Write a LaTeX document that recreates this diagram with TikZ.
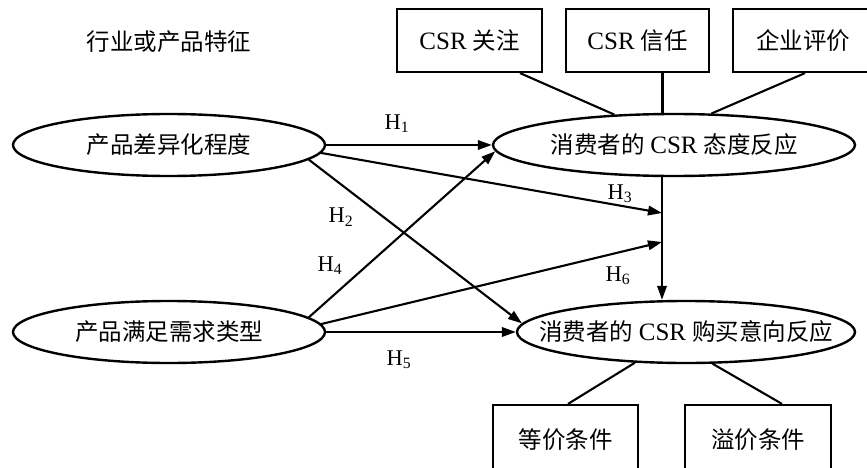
\documentclass[tikz,border=0pt]{standalone}
\usepackage{fontspec}
\setmainfont{Liberation Serif}
\newfontfamily\cjk{Noto Sans CJK SC}
\usetikzlibrary{shapes.geometric,arrows.meta}
\newcommand\zh[1]{{\cjk #1}}
\newcommand\csrtxt{{\fontsize{25}{25}\selectfont CSR}}
\newcommand\hyp[1]{H\textsubscript{#1}}
\begin{document}
\begin{tikzpicture}[x=1pt,y=-1pt,
  every node/.style={font=\fontsize{23.5}{26}\selectfont},
  ell/.style={draw,ellipse,line width=2.4pt,inner sep=0pt,minimum height=62pt},
  box/.style={draw,rectangle,line width=2.2pt,inner sep=0pt},
  link/.style={line width=2.1pt},
  arr/.style={line width=2.1pt,-{Triangle[length=14pt,width=9.5pt]}},
  hlab/.style={font=\fontsize{22.5}{24}\selectfont}]
\useasboundingbox (0,0) rectangle (867,468);
\clip (0,0) rectangle (867,468);

% title
\node (title) at (169,42) {\zh{行业或产品特征}};

% ellipses
\node[ell, minimum width=312pt] (e1) at (169,145) {};
\node (t1) at (e1.center) {\zh{产品差异化程度}};
\node[ell, minimum width=312pt] (e2) at (169,332) {};
\node (t2) at (e2.center) {\zh{产品满足需求类型}};
\node[ell, minimum width=362pt] (e3) at (674,145) {};
\node (t3) at (e3.center) {\zh{消费者的} \csrtxt{} \zh{态度反应}};
\node[ell, minimum width=338pt] (e4) at (686,332) {};
\node (t4) at (e4.center) {\zh{消费者的} \csrtxt{} \zh{购买意向反应}};

% top boxes
\node[box, minimum width=145pt, minimum height=63pt] (b1) at (469.5,40.5) {\csrtxt{} \zh{关注}};
\node[box, minimum width=143pt, minimum height=63pt] (b2) at (637.5,40.5) {\csrtxt{} \zh{信任}};
\node[box, minimum width=140pt, minimum height=63pt] (b3) at (803,40.5) {\zh{企业评价}};

% bottom boxes
\node[box, minimum width=145pt, minimum height=70pt] (ba) at (565.5,440) {\zh{等价条件}};
\node[box, minimum width=146pt, minimum height=70pt] (bb) at (758,440) {\zh{溢价条件}};

% links boxes - ellipses
\draw[link] ([xshift=50.5pt]b1.south) -- (e3.153.8);
\draw[link] ([xshift=25pt]b2.south) -- ([xshift=25pt]b2.south |- e3.north);
\draw[link] ([xshift=2pt]b3.south) -- (e3.40);
\draw[link] (e4.211) -- ([xshift=2.5pt]ba.north);
\draw[link] (e4.-50) -- ([xshift=24pt]bb.north);

% junctions on vertical line
\coordinate (j3) at (662,213);
\coordinate (j6) at (662,242);
\draw[arr] (e3.south -| j3) -- (e4.north -| j3);

% hypothesis arrows
\draw[arr] (e1.east) -- (e3.west);
\draw[arr] (e1.-3) -- (j3);
\draw[arr] (e1.-6.7) -- (e4.177.5);
\draw[arr] (e2.6.6) -- (e3.182.5);
\draw[arr] (e2.3.4) -- (j6);
\draw[arr] (e2.east) -- (e4.west);

% labels
\node[hlab] (h1) at (397,124) {\hyp{1}};
\node[hlab] (h2) at (341,217) {\hyp{2}};
\node[hlab] (h3) at (620,194) {\hyp{3}};
\node[hlab] (h4) at (330,266) {\hyp{4}};
\node[hlab] (h5) at (399,360) {\hyp{5}};
\node[hlab] (h6) at (618,276) {\hyp{6}};
\end{tikzpicture}
\end{document}
